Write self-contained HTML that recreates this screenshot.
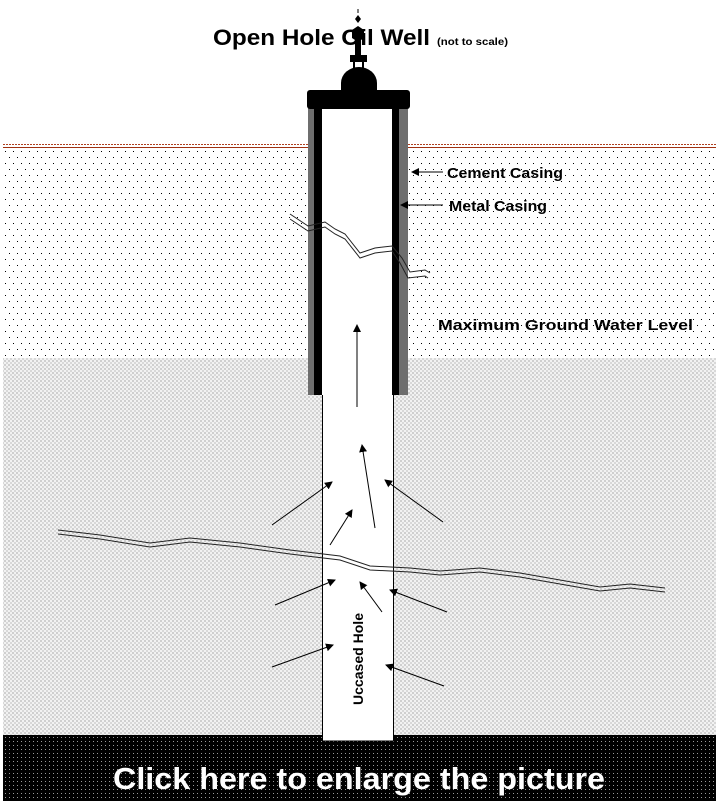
<!DOCTYPE html>
<html><head><meta charset="utf-8"><style>
body{margin:0;width:716px;height:801px;overflow:hidden;background:#fff}
svg{display:block}
text{font-family:"Liberation Sans",sans-serif;font-weight:bold}
</style></head><body>
<svg width="716" height="801" viewBox="0 0 716 801">
<defs>
<pattern id="dots" width="8" height="12" patternUnits="userSpaceOnUse">
<rect x="1" y="1" width="1" height="1" fill="#000"/><rect x="5" y="7" width="1" height="1" fill="#000"/>
</pattern>
<pattern id="gray" width="4" height="4" patternUnits="userSpaceOnUse">
<rect width="4" height="4" fill="#f2f2f2"/><rect x="0" y="0" width="2" height="2" fill="#cfcfcf"/><rect x="2" y="2" width="2" height="2" fill="#d8d8d8"/>
</pattern>
<pattern id="dark" width="4" height="4" patternUnits="userSpaceOnUse">
<rect width="4" height="4" fill="#000"/><rect x="1" y="1" width="1" height="1" fill="#999"/>
</pattern>
<marker id="ah" markerWidth="8" markerHeight="8" refX="7" refY="4" orient="auto" markerUnits="userSpaceOnUse"><path d="M0,0 L8,4 L0,8 z" fill="#000"/></marker>
</defs>
<rect x="3" y="149" width="713" height="210" fill="url(#dots)"/>
<rect x="3" y="358" width="713" height="378" fill="url(#gray)"/>
<line x1="3" y1="144.5" x2="716" y2="144.5" stroke="#b04020" stroke-dasharray="2,1"/>
<line x1="3" y1="147.5" x2="716" y2="147.5" stroke="#a03010"/>
<rect x="3" y="735" width="713" height="66" fill="url(#dark)"/>
<!-- hole -->
<rect x="322.5" y="390" width="71" height="351" fill="#fff" stroke="#000"/>
<!-- casing -->
<rect x="322" y="100" width="70" height="295" fill="#fff"/>
<rect x="308" y="100" width="6" height="295" fill="#6e6e6e"/>
<rect x="314" y="100" width="8" height="295" fill="#000"/>
<rect x="392" y="100" width="7" height="295" fill="#000"/>
<rect x="399" y="100" width="9" height="295" fill="#6e6e6e"/>
<rect x="307" y="90" width="103" height="19" rx="3" fill="#000"/>
<path d="M341,92 L341,83 A18,16 0 0 1 377,83 L377,92 z" fill="#000"/>
<rect x="350" y="55" width="17" height="7" fill="#000"/>
<rect x="353" y="62" width="2" height="8" fill="#000"/><rect x="362" y="62" width="2" height="8" fill="#000"/>
<path d="M355,55 L355,40 L352,38 L352,30 L358,26 L364,30 L364,38 L361,40 L361,55z" fill="#000"/>
<path d="M358,15 L361,19 L358,23 L355,19z" fill="#000"/><rect x="357.5" y="9" width="1" height="4" fill="#000"/>
<!-- cracks -->
<g fill="none" stroke="#222" stroke-width="1">
<polyline points="58,530 100,535 150,543 190,538 240,543 290,550 340,556 370,566 410,568 440,571 480,568 520,573 560,580 600,587 630,584 665,588"/>
<polyline points="58,534 100,539 150,547 190,542 240,547 290,554 340,560 370,570 410,572 440,575 480,572 520,577 560,584 600,591 630,588 665,592"/>
<polyline points="290,214 308,226 325,222 335,229 345,234 360,253 375,248 392,246 402,258 410,272 425,270 430,273"/>
<polyline points="290,219 308,231 325,227 335,234 345,239 360,258 375,253 392,251 400,263 408,278 425,276 428,278"/>
</g>
<!-- arrows -->
<g stroke="#000" stroke-width="1" marker-end="url(#ah)">
<line x1="357" y1="407" x2="357" y2="325"/>
<line x1="272" y1="525" x2="332" y2="482"/>
<line x1="330" y1="545" x2="352" y2="510"/>
<line x1="375" y1="528" x2="362" y2="445"/>
<line x1="443" y1="522" x2="385" y2="480"/>
<line x1="275" y1="605" x2="335" y2="580"/>
<line x1="382" y1="612" x2="360" y2="582"/>
<line x1="447" y1="612" x2="390" y2="590"/>
<line x1="272" y1="667" x2="333" y2="645"/>
<line x1="444" y1="686" x2="386" y2="665"/>
<line x1="443" y1="172" x2="412" y2="172"/>
<line x1="443" y1="205" x2="401" y2="205"/>
</g>
<text x="213" y="45" font-size="22" textLength="217" lengthAdjust="spacingAndGlyphs">Open Hole Oil Well</text>
<text x="437" y="45" font-size="10" textLength="71" lengthAdjust="spacingAndGlyphs">(not to scale)</text>
<text x="447" y="178" font-size="15" textLength="116" lengthAdjust="spacingAndGlyphs">Cement Casing</text>
<text x="449" y="211" font-size="15" textLength="98" lengthAdjust="spacingAndGlyphs">Metal Casing</text>
<text x="438" y="330" font-size="15" textLength="255" lengthAdjust="spacingAndGlyphs">Maximum Ground Water Level</text>
<text transform="translate(363,705) rotate(-90)" font-size="14" textLength="92" lengthAdjust="spacingAndGlyphs">Uccased Hole</text>
<text x="113" y="789" font-size="31" fill="#fff" textLength="492" lengthAdjust="spacingAndGlyphs">Click here to enlarge the picture</text>
</svg>
</body></html>
